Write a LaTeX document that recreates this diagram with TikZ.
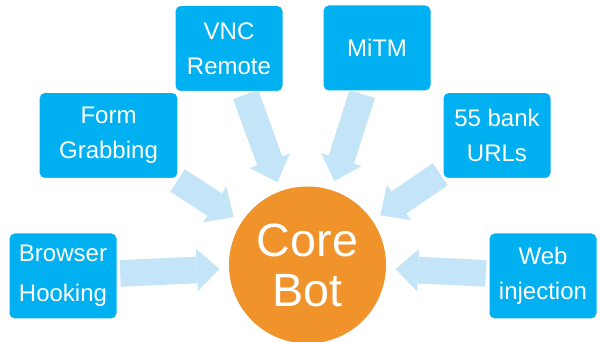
\documentclass[tikz,border=0pt]{standalone}
\usepackage{fontspec}
\setmainfont{Liberation Sans}
\usetikzlibrary{arrows.meta,backgrounds}
\definecolor{featblue}{HTML}{00B0F0}
\definecolor{flowblue}{HTML}{C4E5F8}
\definecolor{coreorange}{HTML}{F0932B}

\begin{document}
\begin{tikzpicture}[x=0.75pt,y=-0.75pt,
  feat/.style={fill=featblue,draw=white,line width=0.75pt,rounded corners=4pt,text=white,align=center,
    minimum width=81pt,minimum height=64.5pt,inner sep=0pt,font=\fontsize{18}{26}\selectfont},
  flow/.style={draw=flowblue,line width=20pt,-{Triangle[width=32pt,length=17pt,line width=0pt]},
    shorten <=2pt,shorten >=7pt}]
  \useasboundingbox (0,0) rectangle (601,342);
  % ---- core ----
  \node[circle,fill=coreorange,text=white,minimum size=117.75pt,inner sep=0pt,align=center,
    font=\fontsize{35}{37.5}\selectfont] (core) at (307.5,265) {Core\\Bot};
  % ---- features round it ----
  \node[feat] (hook) at (63,276) {Browser\\[4pt]Hooking};
  \node[feat,minimum width=104pt] (form) at (108.5,135.5) {Form\\Grabbing};
  \node[feat] (vnc) at (229,48.5) {VNC\\Remote};
  \node[feat] (mitm) at (377,48) {MiTM};
  \node[feat] (bank) at (497,135.5) {55 bank\\URLs};
  \node[feat] (web) at (543,276) {Web\\injection};
  % ---- arrows into the core ----
  \begin{scope}[on background layer]
    \foreach \f in {hook,form,vnc,mitm,bank,web}
      \draw[flow] (\f) -- (core);
  \end{scope}
\end{tikzpicture}
\end{document}
